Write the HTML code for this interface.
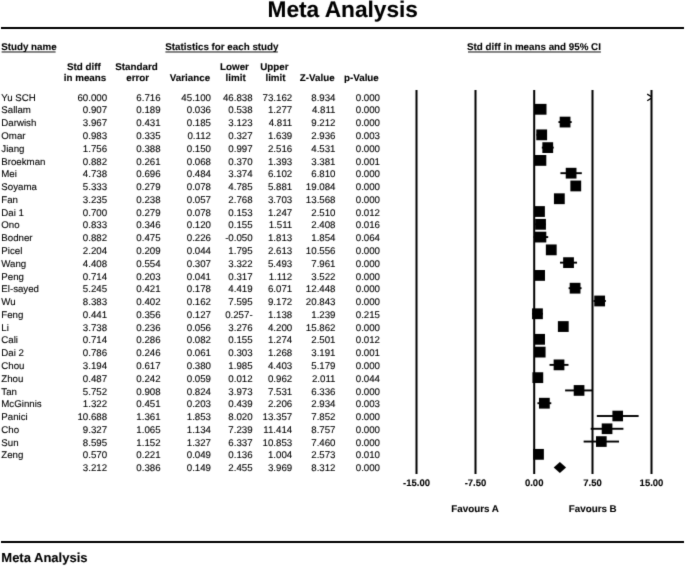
<!DOCTYPE html>
<html><head><meta charset="utf-8"><style>
html,body{margin:0;padding:0;background:#fff;}
body{width:685px;height:566px;position:relative;overflow:hidden;font-family:"Liberation Sans",sans-serif;color:#000;}
.t{position:absolute;white-space:nowrap;line-height:1;text-rendering:geometricPrecision;-webkit-text-stroke:0.1px #000;}
.b{font-weight:bold;}
.u{text-decoration:underline;text-decoration-thickness:1px;text-underline-offset:2px;}
svg{position:absolute;left:0;top:0;}
#w{position:absolute;left:0;top:0;width:685px;height:566px;background:#fff;filter:grayscale(1) url(#f);}
</style></head><body>
<svg width="0" height="0" style="position:absolute"><filter id="f" x="0" y="0" width="100%" height="100%" color-interpolation-filters="sRGB"><feConvolveMatrix order="3" kernelMatrix="0.0114 0.0841 0.0114 0.0841 0.6178 0.0841 0.0114 0.0841 0.0114" edgeMode="duplicate"/></filter></svg>
<div id="w">
<div class="t b" style="left:267.50px;top:-2.00px;font-size:22.7px">Meta Analysis</div>
<div class="t b" style="left:1.20px;top:43.00px;font-size:9.8px">Study name</div>
<div class="t b" style="left:165.30px;top:43.00px;font-size:9.8px">Statistics for each study</div>
<div class="t b" style="left:467.00px;top:43.00px;font-size:9.8px">Std diff in means and 95% CI</div>
<div class="t b" style="left:-16.20px;width:200px;text-align:center;top:63.00px;font-size:9.8px">Std diff</div>
<div class="t b" style="left:-15.00px;width:200px;text-align:center;top:74.00px;font-size:9.8px">in means</div>
<div class="t b" style="left:36.50px;width:200px;text-align:center;top:63.00px;font-size:9.8px">Standard</div>
<div class="t b" style="left:37.70px;width:200px;text-align:center;top:74.00px;font-size:9.8px">error</div>
<div class="t b" style="left:90.00px;width:200px;text-align:center;top:74.00px;font-size:9.8px">Variance</div>
<div class="t b" style="left:134.50px;width:200px;text-align:center;top:63.00px;font-size:9.8px">Lower</div>
<div class="t b" style="left:135.70px;width:200px;text-align:center;top:74.00px;font-size:9.8px">limit</div>
<div class="t b" style="left:174.30px;width:200px;text-align:center;top:63.00px;font-size:9.8px">Upper</div>
<div class="t b" style="left:175.50px;width:200px;text-align:center;top:74.00px;font-size:9.8px">limit</div>
<div class="t b" style="left:217.20px;width:200px;text-align:center;top:74.00px;font-size:9.8px">Z-Value</div>
<div class="t b" style="left:261.40px;width:200px;text-align:center;top:74.00px;font-size:9.8px">p-Value</div>
<div class="t" style="left:1.30px;top:94.00px;font-size:9.7px">Yu SCH</div>
<div class="t" style="right:577.90px;top:94.00px;font-size:9.7px">60.000</div>
<div class="t" style="right:524.40px;top:94.00px;font-size:9.7px">6.716</div>
<div class="t" style="right:474.00px;top:94.00px;font-size:9.7px">45.100</div>
<div class="t" style="right:432.40px;top:94.00px;font-size:9.7px">46.838</div>
<div class="t" style="right:392.80px;top:94.00px;font-size:9.7px">73.162</div>
<div class="t" style="right:349.50px;top:94.00px;font-size:9.7px">8.934</div>
<div class="t" style="right:305.00px;top:94.00px;font-size:9.7px">0.000</div>
<div class="t" style="left:1.30px;top:106.00px;font-size:9.7px">Sallam</div>
<div class="t" style="right:577.90px;top:106.00px;font-size:9.7px">0.907</div>
<div class="t" style="right:524.40px;top:106.00px;font-size:9.7px">0.189</div>
<div class="t" style="right:474.00px;top:106.00px;font-size:9.7px">0.036</div>
<div class="t" style="right:432.40px;top:106.00px;font-size:9.7px">0.538</div>
<div class="t" style="right:392.80px;top:106.00px;font-size:9.7px">1.277</div>
<div class="t" style="right:349.50px;top:106.00px;font-size:9.7px">4.811</div>
<div class="t" style="right:305.00px;top:106.00px;font-size:9.7px">0.000</div>
<div class="t" style="left:1.30px;top:119.00px;font-size:9.7px">Darwish</div>
<div class="t" style="right:577.90px;top:119.00px;font-size:9.7px">3.967</div>
<div class="t" style="right:524.40px;top:119.00px;font-size:9.7px">0.431</div>
<div class="t" style="right:474.00px;top:119.00px;font-size:9.7px">0.185</div>
<div class="t" style="right:432.40px;top:119.00px;font-size:9.7px">3.123</div>
<div class="t" style="right:392.80px;top:119.00px;font-size:9.7px">4.811</div>
<div class="t" style="right:349.50px;top:119.00px;font-size:9.7px">9.212</div>
<div class="t" style="right:305.00px;top:119.00px;font-size:9.7px">0.000</div>
<div class="t" style="left:1.30px;top:132.00px;font-size:9.7px">Omar</div>
<div class="t" style="right:577.90px;top:132.00px;font-size:9.7px">0.983</div>
<div class="t" style="right:524.40px;top:132.00px;font-size:9.7px">0.335</div>
<div class="t" style="right:474.00px;top:132.00px;font-size:9.7px">0.112</div>
<div class="t" style="right:432.40px;top:132.00px;font-size:9.7px">0.327</div>
<div class="t" style="right:392.80px;top:132.00px;font-size:9.7px">1.639</div>
<div class="t" style="right:349.50px;top:132.00px;font-size:9.7px">2.936</div>
<div class="t" style="right:305.00px;top:132.00px;font-size:9.7px">0.003</div>
<div class="t" style="left:1.30px;top:145.00px;font-size:9.7px">Jiang</div>
<div class="t" style="right:577.90px;top:145.00px;font-size:9.7px">1.756</div>
<div class="t" style="right:524.40px;top:145.00px;font-size:9.7px">0.388</div>
<div class="t" style="right:474.00px;top:145.00px;font-size:9.7px">0.150</div>
<div class="t" style="right:432.40px;top:145.00px;font-size:9.7px">0.997</div>
<div class="t" style="right:392.80px;top:145.00px;font-size:9.7px">2.516</div>
<div class="t" style="right:349.50px;top:145.00px;font-size:9.7px">4.531</div>
<div class="t" style="right:305.00px;top:145.00px;font-size:9.7px">0.000</div>
<div class="t" style="left:1.30px;top:158.00px;font-size:9.7px">Broekman</div>
<div class="t" style="right:577.90px;top:158.00px;font-size:9.7px">0.882</div>
<div class="t" style="right:524.40px;top:158.00px;font-size:9.7px">0.261</div>
<div class="t" style="right:474.00px;top:158.00px;font-size:9.7px">0.068</div>
<div class="t" style="right:432.40px;top:158.00px;font-size:9.7px">0.370</div>
<div class="t" style="right:392.80px;top:158.00px;font-size:9.7px">1.393</div>
<div class="t" style="right:349.50px;top:158.00px;font-size:9.7px">3.381</div>
<div class="t" style="right:305.00px;top:158.00px;font-size:9.7px">0.001</div>
<div class="t" style="left:1.30px;top:170.00px;font-size:9.7px">Mei</div>
<div class="t" style="right:577.90px;top:170.00px;font-size:9.7px">4.738</div>
<div class="t" style="right:524.40px;top:170.00px;font-size:9.7px">0.696</div>
<div class="t" style="right:474.00px;top:170.00px;font-size:9.7px">0.484</div>
<div class="t" style="right:432.40px;top:170.00px;font-size:9.7px">3.374</div>
<div class="t" style="right:392.80px;top:170.00px;font-size:9.7px">6.102</div>
<div class="t" style="right:349.50px;top:170.00px;font-size:9.7px">6.810</div>
<div class="t" style="right:305.00px;top:170.00px;font-size:9.7px">0.000</div>
<div class="t" style="left:1.30px;top:183.00px;font-size:9.7px">Soyama</div>
<div class="t" style="right:577.90px;top:183.00px;font-size:9.7px">5.333</div>
<div class="t" style="right:524.40px;top:183.00px;font-size:9.7px">0.279</div>
<div class="t" style="right:474.00px;top:183.00px;font-size:9.7px">0.078</div>
<div class="t" style="right:432.40px;top:183.00px;font-size:9.7px">4.785</div>
<div class="t" style="right:392.80px;top:183.00px;font-size:9.7px">5.881</div>
<div class="t" style="right:349.50px;top:183.00px;font-size:9.7px">19.084</div>
<div class="t" style="right:305.00px;top:183.00px;font-size:9.7px">0.000</div>
<div class="t" style="left:1.30px;top:196.00px;font-size:9.7px">Fan</div>
<div class="t" style="right:577.90px;top:196.00px;font-size:9.7px">3.235</div>
<div class="t" style="right:524.40px;top:196.00px;font-size:9.7px">0.238</div>
<div class="t" style="right:474.00px;top:196.00px;font-size:9.7px">0.057</div>
<div class="t" style="right:432.40px;top:196.00px;font-size:9.7px">2.768</div>
<div class="t" style="right:392.80px;top:196.00px;font-size:9.7px">3.703</div>
<div class="t" style="right:349.50px;top:196.00px;font-size:9.7px">13.568</div>
<div class="t" style="right:305.00px;top:196.00px;font-size:9.7px">0.000</div>
<div class="t" style="left:1.30px;top:209.00px;font-size:9.7px">Dai 1</div>
<div class="t" style="right:577.90px;top:209.00px;font-size:9.7px">0.700</div>
<div class="t" style="right:524.40px;top:209.00px;font-size:9.7px">0.279</div>
<div class="t" style="right:474.00px;top:209.00px;font-size:9.7px">0.078</div>
<div class="t" style="right:432.40px;top:209.00px;font-size:9.7px">0.153</div>
<div class="t" style="right:392.80px;top:209.00px;font-size:9.7px">1.247</div>
<div class="t" style="right:349.50px;top:209.00px;font-size:9.7px">2.510</div>
<div class="t" style="right:305.00px;top:209.00px;font-size:9.7px">0.012</div>
<div class="t" style="left:1.30px;top:221.00px;font-size:9.7px">Ono</div>
<div class="t" style="right:577.90px;top:221.00px;font-size:9.7px">0.833</div>
<div class="t" style="right:524.40px;top:221.00px;font-size:9.7px">0.346</div>
<div class="t" style="right:474.00px;top:221.00px;font-size:9.7px">0.120</div>
<div class="t" style="right:432.40px;top:221.00px;font-size:9.7px">0.155</div>
<div class="t" style="right:392.80px;top:221.00px;font-size:9.7px">1.511</div>
<div class="t" style="right:349.50px;top:221.00px;font-size:9.7px">2.408</div>
<div class="t" style="right:305.00px;top:221.00px;font-size:9.7px">0.016</div>
<div class="t" style="left:1.30px;top:234.00px;font-size:9.7px">Bodner</div>
<div class="t" style="right:577.90px;top:234.00px;font-size:9.7px">0.882</div>
<div class="t" style="right:524.40px;top:234.00px;font-size:9.7px">0.475</div>
<div class="t" style="right:474.00px;top:234.00px;font-size:9.7px">0.226</div>
<div class="t" style="right:432.40px;top:234.00px;font-size:9.7px">-0.050</div>
<div class="t" style="right:392.80px;top:234.00px;font-size:9.7px">1.813</div>
<div class="t" style="right:349.50px;top:234.00px;font-size:9.7px">1.854</div>
<div class="t" style="right:305.00px;top:234.00px;font-size:9.7px">0.064</div>
<div class="t" style="left:1.30px;top:247.00px;font-size:9.7px">Picel</div>
<div class="t" style="right:577.90px;top:247.00px;font-size:9.7px">2.204</div>
<div class="t" style="right:524.40px;top:247.00px;font-size:9.7px">0.209</div>
<div class="t" style="right:474.00px;top:247.00px;font-size:9.7px">0.044</div>
<div class="t" style="right:432.40px;top:247.00px;font-size:9.7px">1.795</div>
<div class="t" style="right:392.80px;top:247.00px;font-size:9.7px">2.613</div>
<div class="t" style="right:349.50px;top:247.00px;font-size:9.7px">10.556</div>
<div class="t" style="right:305.00px;top:247.00px;font-size:9.7px">0.000</div>
<div class="t" style="left:1.30px;top:260.00px;font-size:9.7px">Wang</div>
<div class="t" style="right:577.90px;top:260.00px;font-size:9.7px">4.408</div>
<div class="t" style="right:524.40px;top:260.00px;font-size:9.7px">0.554</div>
<div class="t" style="right:474.00px;top:260.00px;font-size:9.7px">0.307</div>
<div class="t" style="right:432.40px;top:260.00px;font-size:9.7px">3.322</div>
<div class="t" style="right:392.80px;top:260.00px;font-size:9.7px">5.493</div>
<div class="t" style="right:349.50px;top:260.00px;font-size:9.7px">7.961</div>
<div class="t" style="right:305.00px;top:260.00px;font-size:9.7px">0.000</div>
<div class="t" style="left:1.30px;top:273.00px;font-size:9.7px">Peng</div>
<div class="t" style="right:577.90px;top:273.00px;font-size:9.7px">0.714</div>
<div class="t" style="right:524.40px;top:273.00px;font-size:9.7px">0.203</div>
<div class="t" style="right:474.00px;top:273.00px;font-size:9.7px">0.041</div>
<div class="t" style="right:432.40px;top:273.00px;font-size:9.7px">0.317</div>
<div class="t" style="right:392.80px;top:273.00px;font-size:9.7px">1.112</div>
<div class="t" style="right:349.50px;top:273.00px;font-size:9.7px">3.522</div>
<div class="t" style="right:305.00px;top:273.00px;font-size:9.7px">0.000</div>
<div class="t" style="left:1.30px;top:285.00px;font-size:9.7px">El-sayed</div>
<div class="t" style="right:577.90px;top:285.00px;font-size:9.7px">5.245</div>
<div class="t" style="right:524.40px;top:285.00px;font-size:9.7px">0.421</div>
<div class="t" style="right:474.00px;top:285.00px;font-size:9.7px">0.178</div>
<div class="t" style="right:432.40px;top:285.00px;font-size:9.7px">4.419</div>
<div class="t" style="right:392.80px;top:285.00px;font-size:9.7px">6.071</div>
<div class="t" style="right:349.50px;top:285.00px;font-size:9.7px">12.448</div>
<div class="t" style="right:305.00px;top:285.00px;font-size:9.7px">0.000</div>
<div class="t" style="left:1.30px;top:298.00px;font-size:9.7px">Wu</div>
<div class="t" style="right:577.90px;top:298.00px;font-size:9.7px">8.383</div>
<div class="t" style="right:524.40px;top:298.00px;font-size:9.7px">0.402</div>
<div class="t" style="right:474.00px;top:298.00px;font-size:9.7px">0.162</div>
<div class="t" style="right:432.40px;top:298.00px;font-size:9.7px">7.595</div>
<div class="t" style="right:392.80px;top:298.00px;font-size:9.7px">9.172</div>
<div class="t" style="right:349.50px;top:298.00px;font-size:9.7px">20.843</div>
<div class="t" style="right:305.00px;top:298.00px;font-size:9.7px">0.000</div>
<div class="t" style="left:1.30px;top:311.00px;font-size:9.7px">Feng</div>
<div class="t" style="right:577.90px;top:311.00px;font-size:9.7px">0.441</div>
<div class="t" style="right:524.40px;top:311.00px;font-size:9.7px">0.356</div>
<div class="t" style="right:474.00px;top:311.00px;font-size:9.7px">0.127</div>
<div class="t" style="right:432.40px;top:311.00px;font-size:9.7px">0.257-</div>
<div class="t" style="right:392.80px;top:311.00px;font-size:9.7px">1.138</div>
<div class="t" style="right:349.50px;top:311.00px;font-size:9.7px">1.239</div>
<div class="t" style="right:305.00px;top:311.00px;font-size:9.7px">0.215</div>
<div class="t" style="left:1.30px;top:324.00px;font-size:9.7px">Li</div>
<div class="t" style="right:577.90px;top:324.00px;font-size:9.7px">3.738</div>
<div class="t" style="right:524.40px;top:324.00px;font-size:9.7px">0.236</div>
<div class="t" style="right:474.00px;top:324.00px;font-size:9.7px">0.056</div>
<div class="t" style="right:432.40px;top:324.00px;font-size:9.7px">3.276</div>
<div class="t" style="right:392.80px;top:324.00px;font-size:9.7px">4.200</div>
<div class="t" style="right:349.50px;top:324.00px;font-size:9.7px">15.862</div>
<div class="t" style="right:305.00px;top:324.00px;font-size:9.7px">0.000</div>
<div class="t" style="left:1.30px;top:336.00px;font-size:9.7px">Cali</div>
<div class="t" style="right:577.90px;top:336.00px;font-size:9.7px">0.714</div>
<div class="t" style="right:524.40px;top:336.00px;font-size:9.7px">0.286</div>
<div class="t" style="right:474.00px;top:336.00px;font-size:9.7px">0.082</div>
<div class="t" style="right:432.40px;top:336.00px;font-size:9.7px">0.155</div>
<div class="t" style="right:392.80px;top:336.00px;font-size:9.7px">1.274</div>
<div class="t" style="right:349.50px;top:336.00px;font-size:9.7px">2.501</div>
<div class="t" style="right:305.00px;top:336.00px;font-size:9.7px">0.012</div>
<div class="t" style="left:1.30px;top:349.00px;font-size:9.7px">Dai 2</div>
<div class="t" style="right:577.90px;top:349.00px;font-size:9.7px">0.786</div>
<div class="t" style="right:524.40px;top:349.00px;font-size:9.7px">0.246</div>
<div class="t" style="right:474.00px;top:349.00px;font-size:9.7px">0.061</div>
<div class="t" style="right:432.40px;top:349.00px;font-size:9.7px">0.303</div>
<div class="t" style="right:392.80px;top:349.00px;font-size:9.7px">1.268</div>
<div class="t" style="right:349.50px;top:349.00px;font-size:9.7px">3.191</div>
<div class="t" style="right:305.00px;top:349.00px;font-size:9.7px">0.001</div>
<div class="t" style="left:1.30px;top:362.00px;font-size:9.7px">Chou</div>
<div class="t" style="right:577.90px;top:362.00px;font-size:9.7px">3.194</div>
<div class="t" style="right:524.40px;top:362.00px;font-size:9.7px">0.617</div>
<div class="t" style="right:474.00px;top:362.00px;font-size:9.7px">0.380</div>
<div class="t" style="right:432.40px;top:362.00px;font-size:9.7px">1.985</div>
<div class="t" style="right:392.80px;top:362.00px;font-size:9.7px">4.403</div>
<div class="t" style="right:349.50px;top:362.00px;font-size:9.7px">5.179</div>
<div class="t" style="right:305.00px;top:362.00px;font-size:9.7px">0.000</div>
<div class="t" style="left:1.30px;top:375.00px;font-size:9.7px">Zhou</div>
<div class="t" style="right:577.90px;top:375.00px;font-size:9.7px">0.487</div>
<div class="t" style="right:524.40px;top:375.00px;font-size:9.7px">0.242</div>
<div class="t" style="right:474.00px;top:375.00px;font-size:9.7px">0.059</div>
<div class="t" style="right:432.40px;top:375.00px;font-size:9.7px">0.012</div>
<div class="t" style="right:392.80px;top:375.00px;font-size:9.7px">0.962</div>
<div class="t" style="right:349.50px;top:375.00px;font-size:9.7px">2.011</div>
<div class="t" style="right:305.00px;top:375.00px;font-size:9.7px">0.044</div>
<div class="t" style="left:1.30px;top:388.00px;font-size:9.7px">Tan</div>
<div class="t" style="right:577.90px;top:388.00px;font-size:9.7px">5.752</div>
<div class="t" style="right:524.40px;top:388.00px;font-size:9.7px">0.908</div>
<div class="t" style="right:474.00px;top:388.00px;font-size:9.7px">0.824</div>
<div class="t" style="right:432.40px;top:388.00px;font-size:9.7px">3.973</div>
<div class="t" style="right:392.80px;top:388.00px;font-size:9.7px">7.531</div>
<div class="t" style="right:349.50px;top:388.00px;font-size:9.7px">6.336</div>
<div class="t" style="right:305.00px;top:388.00px;font-size:9.7px">0.000</div>
<div class="t" style="left:1.30px;top:400.00px;font-size:9.7px">McGinnis</div>
<div class="t" style="right:577.90px;top:400.00px;font-size:9.7px">1.322</div>
<div class="t" style="right:524.40px;top:400.00px;font-size:9.7px">0.451</div>
<div class="t" style="right:474.00px;top:400.00px;font-size:9.7px">0.203</div>
<div class="t" style="right:432.40px;top:400.00px;font-size:9.7px">0.439</div>
<div class="t" style="right:392.80px;top:400.00px;font-size:9.7px">2.206</div>
<div class="t" style="right:349.50px;top:400.00px;font-size:9.7px">2.934</div>
<div class="t" style="right:305.00px;top:400.00px;font-size:9.7px">0.003</div>
<div class="t" style="left:1.30px;top:413.00px;font-size:9.7px">Panici</div>
<div class="t" style="right:577.90px;top:413.00px;font-size:9.7px">10.688</div>
<div class="t" style="right:524.40px;top:413.00px;font-size:9.7px">1.361</div>
<div class="t" style="right:474.00px;top:413.00px;font-size:9.7px">1.853</div>
<div class="t" style="right:432.40px;top:413.00px;font-size:9.7px">8.020</div>
<div class="t" style="right:392.80px;top:413.00px;font-size:9.7px">13.357</div>
<div class="t" style="right:349.50px;top:413.00px;font-size:9.7px">7.852</div>
<div class="t" style="right:305.00px;top:413.00px;font-size:9.7px">0.000</div>
<div class="t" style="left:1.30px;top:426.00px;font-size:9.7px">Cho</div>
<div class="t" style="right:577.90px;top:426.00px;font-size:9.7px">9.327</div>
<div class="t" style="right:524.40px;top:426.00px;font-size:9.7px">1.065</div>
<div class="t" style="right:474.00px;top:426.00px;font-size:9.7px">1.134</div>
<div class="t" style="right:432.40px;top:426.00px;font-size:9.7px">7.239</div>
<div class="t" style="right:392.80px;top:426.00px;font-size:9.7px">11.414</div>
<div class="t" style="right:349.50px;top:426.00px;font-size:9.7px">8.757</div>
<div class="t" style="right:305.00px;top:426.00px;font-size:9.7px">0.000</div>
<div class="t" style="left:1.30px;top:439.00px;font-size:9.7px">Sun</div>
<div class="t" style="right:577.90px;top:439.00px;font-size:9.7px">8.595</div>
<div class="t" style="right:524.40px;top:439.00px;font-size:9.7px">1.152</div>
<div class="t" style="right:474.00px;top:439.00px;font-size:9.7px">1.327</div>
<div class="t" style="right:432.40px;top:439.00px;font-size:9.7px">6.337</div>
<div class="t" style="right:392.80px;top:439.00px;font-size:9.7px">10.853</div>
<div class="t" style="right:349.50px;top:439.00px;font-size:9.7px">7.460</div>
<div class="t" style="right:305.00px;top:439.00px;font-size:9.7px">0.000</div>
<div class="t" style="left:1.30px;top:451.00px;font-size:9.7px">Zeng</div>
<div class="t" style="right:577.90px;top:451.00px;font-size:9.7px">0.570</div>
<div class="t" style="right:524.40px;top:451.00px;font-size:9.7px">0.221</div>
<div class="t" style="right:474.00px;top:451.00px;font-size:9.7px">0.049</div>
<div class="t" style="right:432.40px;top:451.00px;font-size:9.7px">0.136</div>
<div class="t" style="right:392.80px;top:451.00px;font-size:9.7px">1.004</div>
<div class="t" style="right:349.50px;top:451.00px;font-size:9.7px">2.573</div>
<div class="t" style="right:305.00px;top:451.00px;font-size:9.7px">0.010</div>
<div class="t" style="right:577.90px;top:464.00px;font-size:9.7px">3.212</div>
<div class="t" style="right:524.40px;top:464.00px;font-size:9.7px">0.386</div>
<div class="t" style="right:474.00px;top:464.00px;font-size:9.7px">0.149</div>
<div class="t" style="right:432.40px;top:464.00px;font-size:9.7px">2.455</div>
<div class="t" style="right:392.80px;top:464.00px;font-size:9.7px">3.969</div>
<div class="t" style="right:349.50px;top:464.00px;font-size:9.7px">8.312</div>
<div class="t" style="right:305.00px;top:464.00px;font-size:9.7px">0.000</div>
<div class="t b" style="left:316.50px;width:200px;text-align:center;top:479.00px;font-size:9.5px">-15.00</div>
<div class="t b" style="left:375.50px;width:200px;text-align:center;top:479.00px;font-size:9.5px">-7.50</div>
<div class="t b" style="left:434.20px;width:200px;text-align:center;top:479.00px;font-size:9.5px">0.00</div>
<div class="t b" style="left:492.50px;width:200px;text-align:center;top:479.00px;font-size:9.5px">7.50</div>
<div class="t b" style="left:551.50px;width:200px;text-align:center;top:479.00px;font-size:9.5px">15.00</div>
<div class="t b" style="left:375.15px;width:200px;text-align:center;top:505.00px;font-size:9.8px">Favours A</div>
<div class="t b" style="left:492.75px;width:200px;text-align:center;top:505.00px;font-size:9.8px">Favours B</div>
<div class="t b" style="left:1.30px;top:551.00px;font-size:13px">Meta Analysis</div>
<svg width="685" height="566" viewBox="0 0 685 566" shape-rendering="crispEdges">
<rect x="1" y="27" width="683" height="2" fill="#000"/>
<rect x="1" y="541" width="683" height="2" fill="#000"/>
<rect x="1.6" y="51.5" width="54.00" height="0.95" fill="#000" shape-rendering="auto"/>
<rect x="165.4" y="51.5" width="112.40" height="0.95" fill="#000" shape-rendering="auto"/>
<rect x="468.0" y="51.5" width="132.90" height="0.95" fill="#000" shape-rendering="auto"/>
<rect x="415.50" y="90" width="2" height="384" fill="#000" shape-rendering="auto"/>
<rect x="474.50" y="90" width="2" height="384" fill="#000" shape-rendering="auto"/>
<rect x="533.20" y="90" width="2" height="384" fill="#000" shape-rendering="auto"/>
<rect x="591.50" y="90" width="2" height="384" fill="#000" shape-rendering="auto"/>
<rect x="650.50" y="90" width="2" height="384" fill="#000" shape-rendering="auto"/>
<path d="M647.20,94.10 L651.50,96.70 M647.20,100.70 L651.50,98.10" stroke="#000" stroke-width="1.3" fill="none" shape-rendering="auto"/>
<rect x="538.21" y="108.33" width="5.79" height="1.9" fill="#000" shape-rendering="auto"/>
<rect x="535.00" y="103.88" width="11.50" height="10.80" fill="#000" shape-rendering="auto"/>
<rect x="558.46" y="121.11" width="13.22" height="1.9" fill="#000" shape-rendering="auto"/>
<rect x="559.68" y="116.67" width="10.78" height="10.78" fill="#000" shape-rendering="auto"/>
<rect x="536.56" y="133.89" width="10.28" height="1.9" fill="#000" shape-rendering="auto"/>
<rect x="536.31" y="129.45" width="10.79" height="10.79" fill="#000" shape-rendering="auto"/>
<rect x="541.81" y="146.67" width="11.90" height="1.9" fill="#000" shape-rendering="auto"/>
<rect x="542.36" y="142.23" width="10.78" height="10.78" fill="#000" shape-rendering="auto"/>
<rect x="536.90" y="159.45" width="8.01" height="1.9" fill="#000" shape-rendering="auto"/>
<rect x="535.00" y="155.00" width="11.31" height="10.80" fill="#000" shape-rendering="auto"/>
<rect x="560.43" y="172.23" width="21.37" height="1.9" fill="#000" shape-rendering="auto"/>
<rect x="565.74" y="167.81" width="10.74" height="10.74" fill="#000" shape-rendering="auto"/>
<rect x="571.48" y="185.01" width="8.58" height="1.9" fill="#000" shape-rendering="auto"/>
<rect x="570.38" y="180.56" width="10.79" height="10.79" fill="#000" shape-rendering="auto"/>
<rect x="555.68" y="197.79" width="7.32" height="1.9" fill="#000" shape-rendering="auto"/>
<rect x="553.94" y="193.34" width="10.80" height="10.80" fill="#000" shape-rendering="auto"/>
<rect x="535.20" y="210.57" width="8.57" height="1.9" fill="#000" shape-rendering="auto"/>
<rect x="534.09" y="206.12" width="10.79" height="10.79" fill="#000" shape-rendering="auto"/>
<rect x="535.21" y="223.35" width="10.62" height="1.9" fill="#000" shape-rendering="auto"/>
<rect x="535.13" y="218.91" width="10.79" height="10.79" fill="#000" shape-rendering="auto"/>
<rect x="533.61" y="236.13" width="14.59" height="1.9" fill="#000" shape-rendering="auto"/>
<rect x="535.00" y="231.69" width="11.30" height="10.77" fill="#000" shape-rendering="auto"/>
<rect x="548.06" y="248.91" width="6.41" height="1.9" fill="#000" shape-rendering="auto"/>
<rect x="545.86" y="244.46" width="10.80" height="10.80" fill="#000" shape-rendering="auto"/>
<rect x="560.02" y="261.69" width="17.01" height="1.9" fill="#000" shape-rendering="auto"/>
<rect x="563.15" y="257.26" width="10.76" height="10.76" fill="#000" shape-rendering="auto"/>
<rect x="536.48" y="274.47" width="6.23" height="1.9" fill="#000" shape-rendering="auto"/>
<rect x="534.19" y="270.02" width="10.80" height="10.80" fill="#000" shape-rendering="auto"/>
<rect x="568.61" y="287.25" width="12.94" height="1.9" fill="#000" shape-rendering="auto"/>
<rect x="569.69" y="282.81" width="10.78" height="10.78" fill="#000" shape-rendering="auto"/>
<rect x="593.49" y="300.03" width="12.35" height="1.9" fill="#000" shape-rendering="auto"/>
<rect x="594.27" y="295.59" width="10.78" height="10.78" fill="#000" shape-rendering="auto"/>
<rect x="531.99" y="312.81" width="10.93" height="1.9" fill="#000" shape-rendering="auto"/>
<rect x="532.06" y="308.37" width="10.79" height="10.79" fill="#000" shape-rendering="auto"/>
<rect x="559.66" y="325.59" width="7.24" height="1.9" fill="#000" shape-rendering="auto"/>
<rect x="557.88" y="321.14" width="10.80" height="10.80" fill="#000" shape-rendering="auto"/>
<rect x="535.21" y="338.37" width="8.77" height="1.9" fill="#000" shape-rendering="auto"/>
<rect x="534.20" y="333.92" width="10.79" height="10.79" fill="#000" shape-rendering="auto"/>
<rect x="536.37" y="351.15" width="7.56" height="1.9" fill="#000" shape-rendering="auto"/>
<rect x="534.76" y="346.70" width="10.80" height="10.80" fill="#000" shape-rendering="auto"/>
<rect x="549.55" y="363.93" width="18.94" height="1.9" fill="#000" shape-rendering="auto"/>
<rect x="553.64" y="359.50" width="10.75" height="10.75" fill="#000" shape-rendering="auto"/>
<rect x="534.09" y="376.71" width="7.44" height="1.9" fill="#000" shape-rendering="auto"/>
<rect x="532.42" y="372.26" width="10.80" height="10.80" fill="#000" shape-rendering="auto"/>
<rect x="565.12" y="389.49" width="27.87" height="1.9" fill="#000" shape-rendering="auto"/>
<rect x="573.71" y="385.09" width="10.70" height="10.70" fill="#000" shape-rendering="auto"/>
<rect x="537.44" y="402.27" width="13.84" height="1.9" fill="#000" shape-rendering="auto"/>
<rect x="538.97" y="397.83" width="10.78" height="10.78" fill="#000" shape-rendering="auto"/>
<rect x="596.82" y="415.05" width="41.80" height="1.9" fill="#000" shape-rendering="auto"/>
<rect x="612.41" y="410.69" width="10.61" height="10.61" fill="#000" shape-rendering="auto"/>
<rect x="590.70" y="427.83" width="32.70" height="1.9" fill="#000" shape-rendering="auto"/>
<rect x="601.72" y="423.44" width="10.67" height="10.67" fill="#000" shape-rendering="auto"/>
<rect x="583.64" y="440.61" width="35.37" height="1.9" fill="#000" shape-rendering="auto"/>
<rect x="596.00" y="436.23" width="10.65" height="10.65" fill="#000" shape-rendering="auto"/>
<rect x="535.07" y="453.39" width="6.80" height="1.9" fill="#000" shape-rendering="auto"/>
<rect x="533.07" y="448.94" width="10.80" height="10.80" fill="#000" shape-rendering="auto"/>
<path d="M553.68,467.52 L559.86,462.12 L566.04,467.52 L559.86,472.92 Z" fill="#000" shape-rendering="auto"/>
</svg>
</div></body></html>
